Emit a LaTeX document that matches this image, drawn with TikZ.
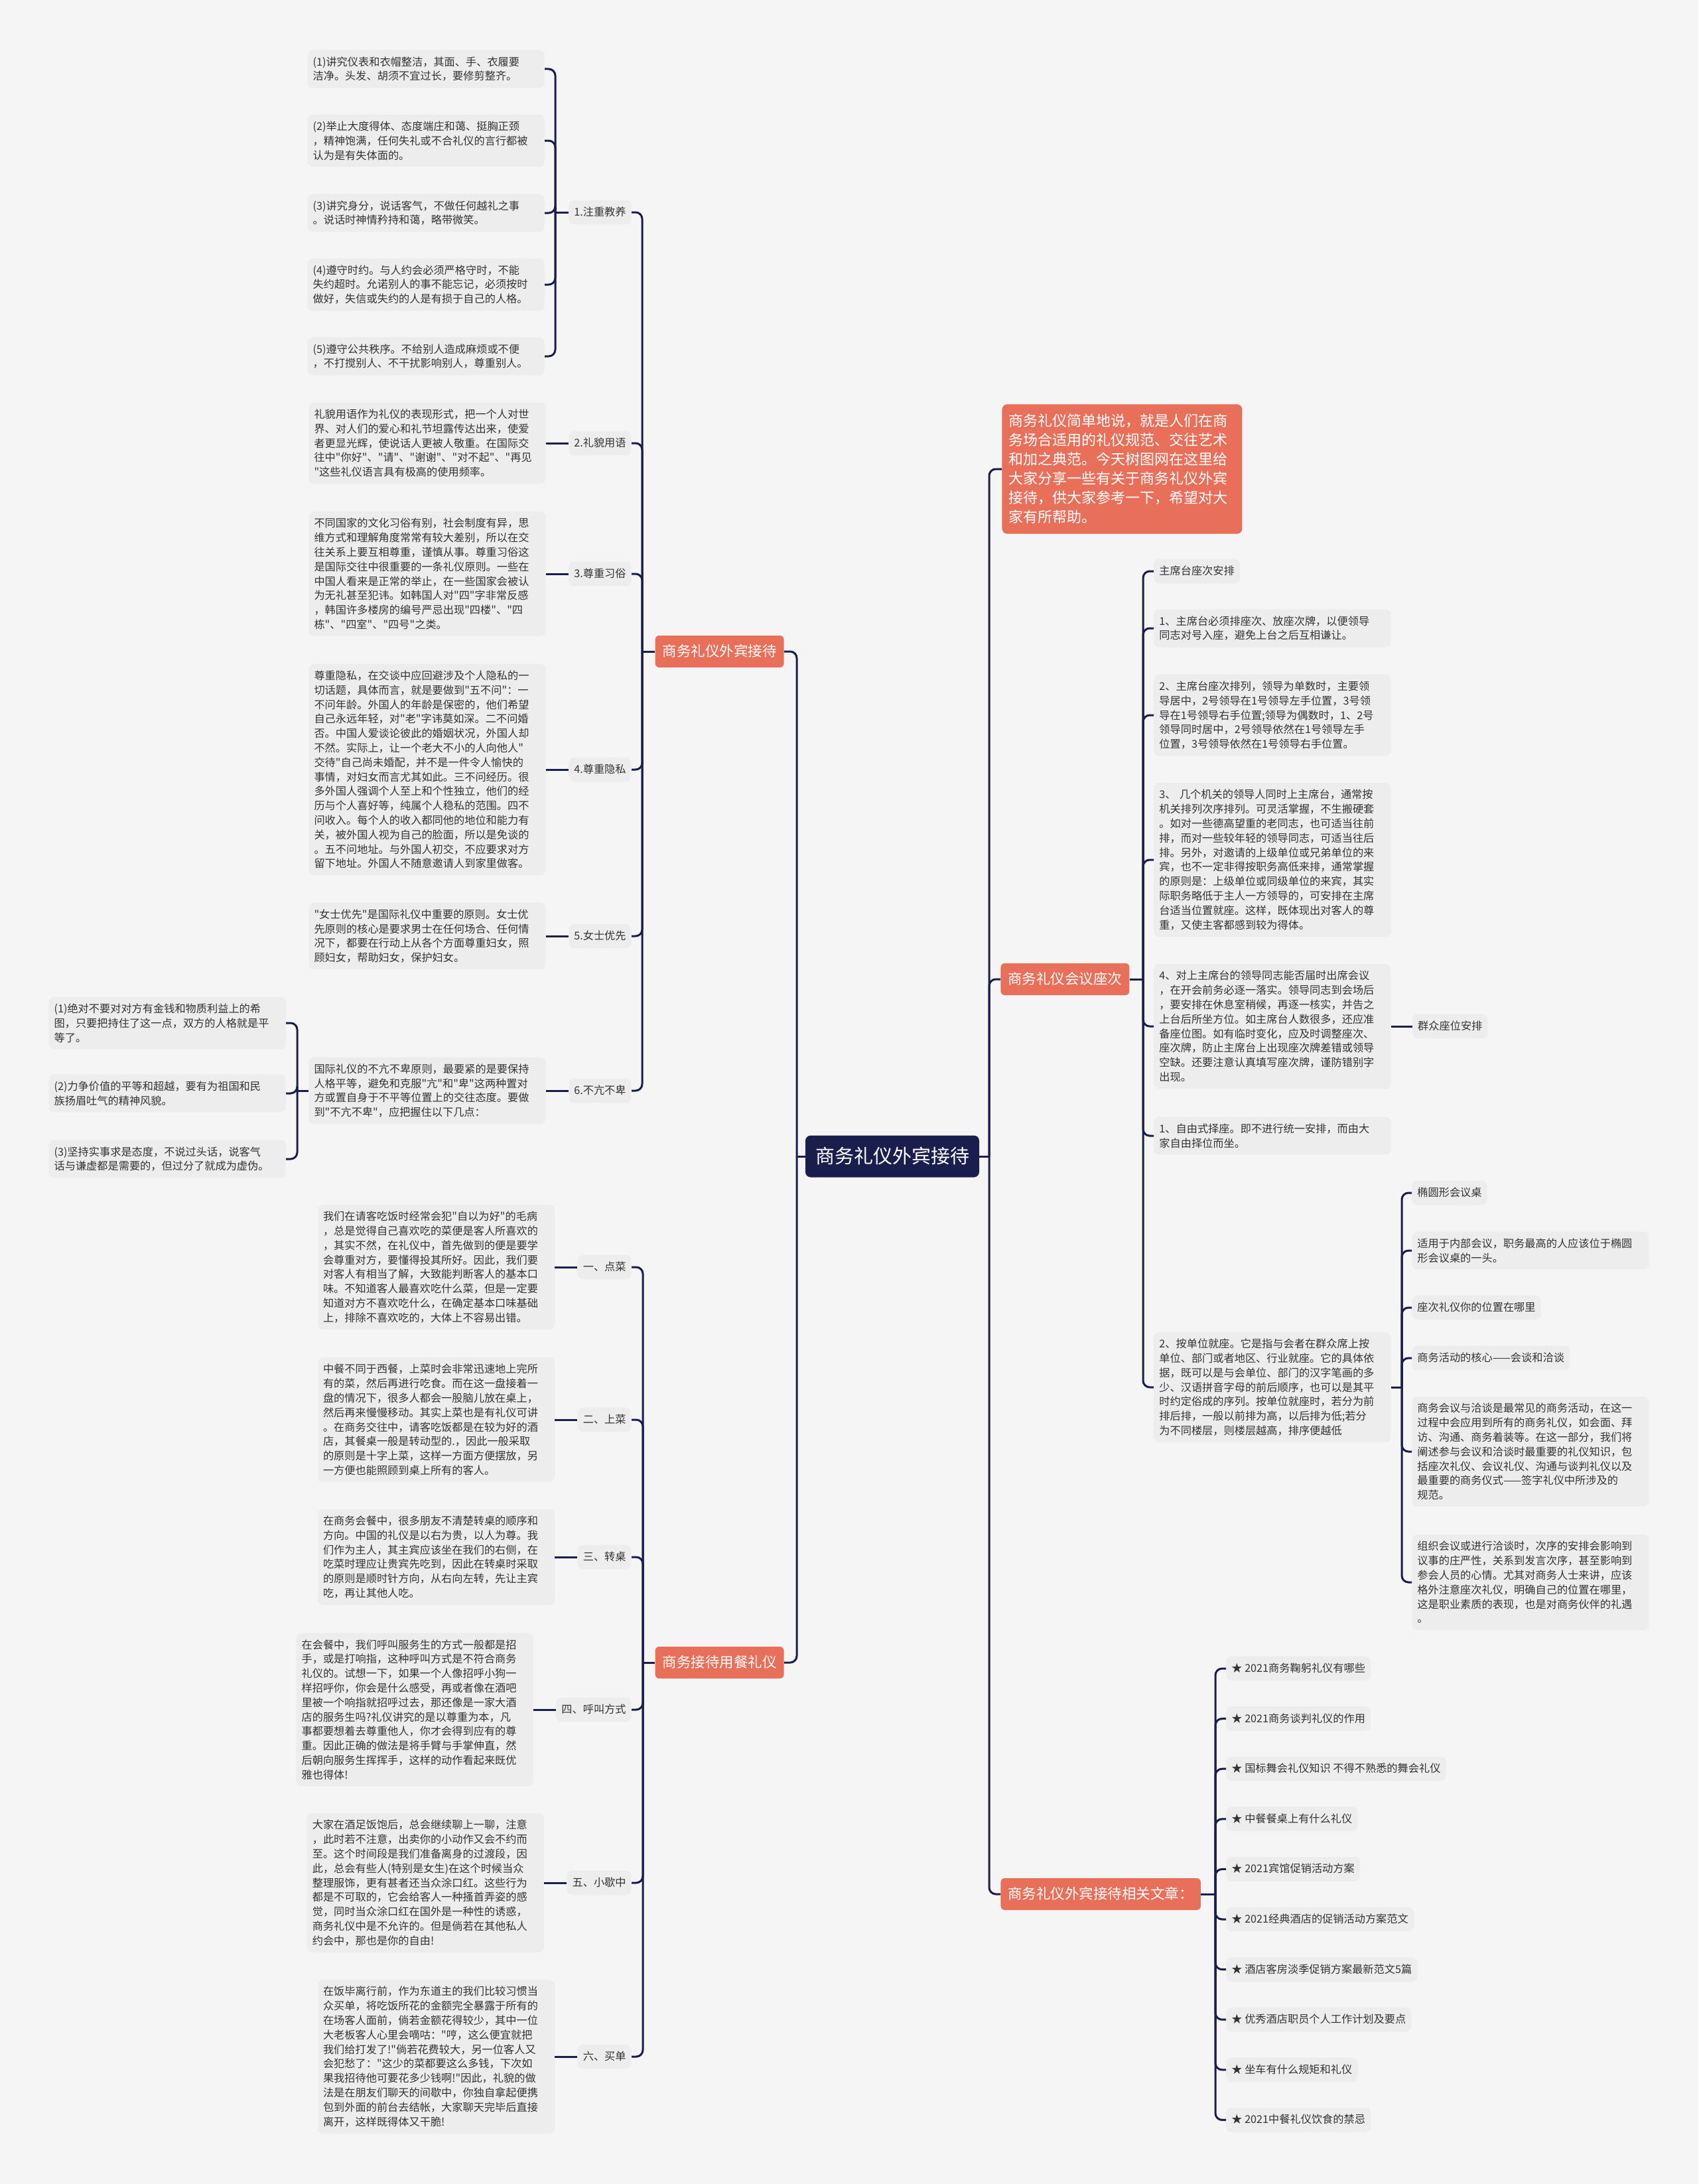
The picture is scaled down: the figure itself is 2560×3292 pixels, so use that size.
\documentclass[tikz,border=0pt]{standalone}
\usepackage{fontspec}
\setmainfont{Noto Sans CJK SC}[Ligatures=TeXOff]
\usepackage{tikz}
\usetikzlibrary{positioning}
\definecolor{mapBg}{RGB}{245,245,245}
\definecolor{mapBox}{RGB}{237,237,237}
\definecolor{mapNavy}{RGB}{26,30,76}
\definecolor{mapSalmon}{RGB}{232,112,90}
\definecolor{mapText}{RGB}{51,51,51}
\newcommand{\bodyfont}{\fontsize{8.1pt}{10.9pt}\selectfont}
\tikzset{
  link/.style={draw=mapNavy,line width=1.5pt,rounded corners=5pt},
  txtbox/.style={fill=mapBox,rounded corners=4pt,text=mapText,font=\bodyfont,
                 align=left,text width=170.5pt,inner xsep=4pt,inner ysep=5pt},
  tag/.style={fill=mapBox,rounded corners=4pt,text=mapText,font=\bodyfont,
              text height=7pt,text depth=1.6pt,inner xsep=4pt,inner ysep=4.9pt},
  branch/.style={fill=mapSalmon,rounded corners=3pt,text=white,
                 font=\fontsize{10.75pt}{13pt}\selectfont,
                 text height=9pt,text depth=1.6pt,inner xsep=5.5pt,inner ysep=6.7pt},
  root/.style={fill=mapNavy,rounded corners=4pt,text=white,
               font=\fontsize{14.5pt}{17pt}\selectfont,
               text height=12.5pt,text depth=2pt,inner xsep=7.5pt,inner ysep=8.5pt},
  intro/.style={fill=mapSalmon,rounded corners=4pt,text=white,align=left,
                font=\fontsize{11pt}{14.5pt}\selectfont,
                text width=171pt,inner xsep=5pt,inner ysep=7.5pt}
}

\begin{document}
\begin{tikzpicture}[x=0.5pt,y=-0.5pt]
\fill[mapBg] (0,0) rectangle (2560,3292);
\useasboundingbox (0,0) rectangle (2560,3292);

% root and main branches
\node[root] (root) at (1345,1743) {商务礼仪外宾接待};
\node[branch,anchor=east] (guest) at (1182,982) {商务礼仪外宾接待};
\node[branch,anchor=east] (dine) at (1182,2506) {商务接待用餐礼仪};
\node[intro,anchor=west] (intro) at (1510,707)
  {商务礼仪简单地说，就是人们在商\\务场合适用的礼仪规范、交往艺术\\和加之典范。今天树图网在这里给\\大家分享一些有关于商务礼仪外宾\\接待，供大家参考一下，希望对大\\家有所帮助。};
\node[branch,anchor=west] (seat) at (1508,1476) {商务礼仪会议座次};
\node[branch,anchor=west] (more) at (1508,2855) {商务礼仪外宾接待相关文章：};

\coordinate (lt) at (1201,1743);
\coordinate (rt) at (1491,1743);
\draw[link] (root.west) -- (lt);
\draw[link] (root.east) -- (rt);
\foreach \b in {guest,dine} \draw[link] (lt) |- (\b.east);
\foreach \b in {intro,seat,more} \draw[link] (rt) |- (\b.west);

% ---- 商务礼仪外宾接待 ----
\node[tag,anchor=east] (g1) at (952,320) {1.注重教养};
\node[tag,anchor=east] (g2) at (952,668) {2.礼貌用语};
\node[tag,anchor=east] (g3) at (952,865) {3.尊重习俗};
\node[tag,anchor=east] (g4) at (952,1160) {4.尊重隐私};
\node[tag,anchor=east] (g5) at (952,1411) {5.女士优先};
\node[tag,anchor=east] (g6) at (952,1644) {6.不亢不卑};
\coordinate (guestv) at (968,982);
\draw[link] (guest.west) -- (guestv);
\foreach \n in {g1,g2,g3,g4,g5,g6} \draw[link] (guestv) |- (\n.east);

\node[txtbox,anchor=east] (g1a) at (821,104)
  {(1)讲究仪表和衣帽整洁，其面、手、衣履要\\洁净。头发、胡须不宜过长，要修剪整齐。};
\node[txtbox,anchor=east] (g1b) at (821,212)
  {(2)举止大度得体、态度端庄和蔼、挺胸正颈\\，精神饱满，任何失礼或不合礼仪的言行都被\\认为是有失体面的。};
\node[txtbox,anchor=east] (g1c) at (821,321)
  {(3)讲究身分，说话客气，不做任何越礼之事\\。说话时神情矜持和蔼，略带微笑。};
\node[txtbox,anchor=east] (g1d) at (821,429)
  {(4)遵守时约。与人约会必须严格守时，不能\\失约超时。允诺别人的事不能忘记，必须按时\\做好，失信或失约的人是有损于自己的人格。};
\node[txtbox,anchor=east] (g1e) at (821,537)
  {(5)遵守公共秩序。不给别人造成麻烦或不便\\，不打搅别人、不干扰影响别人，尊重别人。};
\coordinate (g1v) at (837,320);
\draw[link] (g1.west) -- (g1v);
\foreach \n in {g1a,g1b,g1c,g1d,g1e} \draw[link] (g1v) |- (\n.east);

\node[txtbox,left=17pt of g2] (g2t)
  {礼貌用语作为礼仪的表现形式，把一个人对世\\界、对人们的爱心和礼节坦露传达出来，使爱\\者更显光辉，使说话人更被人敬重。在国际交\\往中"你好"、"请"、"谢谢"、"对不起"、"再见\\"这些礼仪语言具有极高的使用频率。};
\node[txtbox,left=17pt of g3] (g3t)
  {不同国家的文化习俗有别，社会制度有异，思\\维方式和理解角度常常有较大差别，所以在交\\往关系上要互相尊重，谨慎从事。尊重习俗这\\是国际交往中很重要的一条礼仪原则。一些在\\中国人看来是正常的举止，在一些国家会被认\\为无礼甚至犯讳。如韩国人对"四"字非常反感\\，韩国许多楼房的编号严忌出现"四楼"、"四\\栋"、"四室"、"四号"之类。};
\node[txtbox,left=17pt of g4] (g4t)
  {尊重隐私，在交谈中应回避涉及个人隐私的一\\切话题，具体而言，就是要做到"五不问"：一\\不问年龄。外国人的年龄是保密的，他们希望\\自己永远年轻，对"老"字讳莫如深。二不问婚\\否。中国人爱谈论彼此的婚姻状况，外国人却\\不然。实际上，让一个老大不小的人向他人"\\交待"自己尚未婚配，并不是一件令人愉快的\\事情，对妇女而言尤其如此。三不问经历。很\\多外国人强调个人至上和个性独立，他们的经\\历与个人喜好等，纯属个人稳私的范围。四不\\问收入。每个人的收入都同他的地位和能力有\\关，被外国人视为自己的脸面，所以是免谈的\\。五不问地址。与外国人初交，不应要求对方\\留下地址。外国人不随意邀请人到家里做客。};
\node[txtbox,left=17pt of g5] (g5t)
  {"女士优先"是国际礼仪中重要的原则。女士优\\先原则的核心是要求男士在任何场合、任何情\\况下，都要在行动上从各个方面尊重妇女，照\\顾妇女，帮助妇女，保护妇女。};
\node[txtbox,left=17pt of g6] (g6t)
  {国际礼仪的不亢不卑原则，最要紧的是要保持\\人格平等，避免和克服"亢"和"卑"这两种置对\\方或置自身于不平等位置上的交往态度。要做\\到"不亢不卑"，应把握住以下几点：};
\foreach \n in {g2,g3,g4,g5,g6} \draw[link] (\n.west) -- (\n t.east);

\node[txtbox,anchor=east] (g6a) at (431,1542)
  {(1)绝对不要对对方有金钱和物质利益上的希\\图，只要把持住了这一点，双方的人格就是平\\等了。};
\node[txtbox,anchor=east] (g6b) at (431,1648)
  {(2)力争价值的平等和超越，要有为祖国和民\\族扬眉吐气的精神风貌。};
\node[txtbox,anchor=east] (g6c) at (431,1747)
  {(3)坚持实事求是态度，不说过头话，说客气\\话与谦虚都是需要的，但过分了就成为虚伪。};
\coordinate (g6v) at (448,1644);
\draw[link] (g6t.west) -- (g6v);
\foreach \n in {g6a,g6b,g6c} \draw[link] (g6v) |- (\n.east);

% ---- 商务接待用餐礼仪 ----
\node[tag,anchor=east] (d1) at (952,1910) {一、点菜};
\node[tag,anchor=east] (d2) at (952,2140) {二、上菜};
\node[tag,anchor=east] (d3) at (952,2347) {三、转桌};
\node[tag,anchor=east] (d4) at (952,2577) {四、呼叫方式};
\node[tag,anchor=east] (d5) at (952,2838) {五、小歇中};
\node[tag,anchor=east] (d6) at (952,3100) {六、买单};
\coordinate (dinev) at (969,2506);
\draw[link] (dine.west) -- (dinev);
\foreach \n in {d1,d2,d3,d4,d5,d6} \draw[link] (dinev) |- (\n.east);

\node[txtbox,left=17pt of d1] (d1t)
  {我们在请客吃饭时经常会犯"自以为好"的毛病\\，总是觉得自己喜欢吃的菜便是客人所喜欢的\\，其实不然，在礼仪中，首先做到的便是要学\\会尊重对方，要懂得投其所好。因此，我们要\\对客人有相当了解，大致能判断客人的基本口\\味。不知道客人最喜欢吃什么菜，但是一定要\\知道对方不喜欢吃什么，在确定基本口味基础\\上，排除不喜欢吃的，大体上不容易出错。};
\node[txtbox,left=17pt of d2] (d2t)
  {中餐不同于西餐，上菜时会非常迅速地上完所\\有的菜，然后再进行吃食。而在这一盘接着一\\盘的情况下，很多人都会一股脑儿放在桌上，\\然后再来慢慢移动。其实上菜也是有礼仪可讲\\。在商务交往中，请客吃饭都是在较为好的酒\\店，其餐桌一般是转动型的.，因此一般采取\\的原则是十字上菜，这样一方面方便摆放，另\\一方便也能照顾到桌上所有的客人。};
\node[txtbox,left=17pt of d3] (d3t)
  {在商务会餐中，很多朋友不清楚转桌的顺序和\\方向。中国的礼仪是以右为贵，以人为尊。我\\们作为主人，其主宾应该坐在我们的右侧，在\\吃菜时理应让贵宾先吃到，因此在转桌时采取\\的原则是顺时针方向，从右向左转，先让主宾\\吃，再让其他人吃。};
\node[txtbox,left=17pt of d4] (d4t)
  {在会餐中，我们呼叫服务生的方式一般都是招\\手，或是打响指，这种呼叫方式是不符合商务\\礼仪的。试想一下，如果一个人像招呼小狗一\\样招呼你，你会是什么感受，再或者像在酒吧\\里被一个响指就招呼过去，那还像是一家大酒\\店的服务生吗?礼仪讲究的是以尊重为本，凡\\事都要想着去尊重他人，你才会得到应有的尊\\重。因此正确的做法是将手臂与手掌伸直，然\\后朝向服务生挥挥手，这样的动作看起来既优\\雅也得体!};
\node[txtbox,left=17pt of d5] (d5t)
  {大家在酒足饭饱后，总会继续聊上一聊，注意\\，此时若不注意，出卖你的小动作又会不约而\\至。这个时间段是我们准备离身的过渡段，因\\此，总会有些人(特别是女生)在这个时候当众\\整理服饰，更有甚者还当众涂口红。这些行为\\都是不可取的，它会给客人一种搔首弄姿的感\\觉，同时当众涂口红在国外是一种性的诱惑，\\商务礼仪中是不允许的。但是倘若在其他私人\\约会中，那也是你的自由!};
\node[txtbox,left=17pt of d6] (d6t)
  {在饭毕离行前，作为东道主的我们比较习惯当\\众买单，将吃饭所花的金额完全暴露于所有的\\在场客人面前，倘若金额花得较少，其中一位\\大老板客人心里会嘀咕："哼，这么便宜就把\\我们给打发了!"倘若花费较大，另一位客人又\\会犯愁了："这少的菜都要这么多钱，下次如\\果我招待他可要花多少钱啊!"因此，礼貌的做\\法是在朋友们聊天的间歇中，你独自拿起便携\\包到外面的前台去结帐，大家聊天完毕后直接\\离开，这样既得体又干脆!};
\foreach \n in {d1,d2,d3,d4,d5,d6} \draw[link] (\n.west) -- (\n t.east);

% ---- 商务礼仪会议座次 ----
\node[tag,anchor=west] (s0) at (1739,861) {主席台座次安排};
\node[txtbox,anchor=west] (s1) at (1739,947)
  {1、主席台必须排座次、放座次牌，以便领导\\同志对号入座，避免上台之后互相谦让。};
\node[txtbox,anchor=west] (s2) at (1739,1078)
  {2、主席台座次排列，领导为单数时，主要领\\导居中，2号领导在1号领导左手位置，3号领\\导在1号领导右手位置;领导为偶数时，1、2号\\领导同时居中，2号领导依然在1号领导左手\\位置，3号领导依然在1号领导右手位置。};
\node[txtbox,anchor=west] (s3) at (1739,1296)
  {3、 几个机关的领导人同时上主席台，通常按\\机关排列次序排列。可灵活掌握，不生搬硬套\\。如对一些德高望重的老同志，也可适当往前\\排，而对一些较年轻的领导同志，可适当往后\\排。另外，对邀请的上级单位或兄弟单位的来\\宾，也不一定非得按职务高低来排，通常掌握\\的原则是：上级单位或同级单位的来宾，其实\\际职务略低于主人一方领导的，可安排在主席\\台适当位置就座。这样，既体现出对客人的尊\\重，又使主客都感到较为得体。};
\node[txtbox,anchor=west] (s4) at (1739,1547)
  {4、对上主席台的领导同志能否届时出席会议\\，在开会前务必逐一落实。领导同志到会场后\\，要安排在休息室稍候，再逐一核实，并告之\\上台后所坐方位。如主席台人数很多，还应准\\备座位图。如有临时变化，应及时调整座次、\\座次牌，防止主席台上出现座次牌差错或领导\\空缺。还要注意认真填写座次牌，谨防错别字\\出现。};
\node[txtbox,anchor=west] (s5) at (1739,1712)
  {1、自由式择座。即不进行统一安排，而由大\\家自由择位而坐。};
\node[txtbox,anchor=west] (s6) at (1739,2091)
  {2、按单位就座。它是指与会者在群众席上按\\单位、部门或者地区、行业就座。它的具体依\\据，既可以是与会单位、部门的汉字笔画的多\\少、汉语拼音字母的前后顺序，也可以是其平\\时约定俗成的序列。按单位就座时，若分为前\\排后排，一般以前排为高，以后排为低;若分\\为不同楼层，则楼层越高，排序便越低};
\coordinate (seatv) at (1723,1476);
\draw[link] (seat.east) -- (seatv);
\foreach \n in {s0,s1,s2,s3,s4,s5,s6} \draw[link] (seatv) |- (\n.west);

\node[tag,right=16pt of s4] (crowd) {群众座位安排};
\draw[link] (s4.east) -- (crowd.west);

\node[tag,anchor=west] (u1) at (2128,1798) {椭圆形会议桌};
\node[txtbox,anchor=west] (u2) at (2128,1885)
  {适用于内部会议，职务最高的人应该位于椭圆\\形会议桌的一头。};
\node[tag,anchor=west] (u3) at (2128,1971) {座次礼仪你的位置在哪里};
\node[tag,anchor=west] (u4) at (2128,2047) {商务活动的核心——会谈和洽谈};
\node[txtbox,anchor=west] (u5) at (2128,2188)
  {商务会议与洽谈是最常见的商务活动，在这一\\过程中会应用到所有的商务礼仪，如会面、拜\\访、沟通、商务着装等。在这一部分，我们将\\阐述参与会议和洽谈时最重要的礼仪知识，包\\括座次礼仪、会议礼仪、沟通与谈判礼仪以及\\最重要的商务仪式——签字礼仪中所涉及的\\规范。};
\node[txtbox,anchor=west] (u6) at (2128,2385)
  {组织会议或进行洽谈时，次序的安排会影响到\\议事的庄严性，关系到发言次序，甚至影响到\\参会人员的心情。尤其对商务人士来讲，应该\\格外注意座次礼仪，明确自己的位置在哪里，\\这是职业素质的表现，也是对商务伙伴的礼遇\\。};
\coordinate (s6v) at (2113,2091);
\draw[link] (s6.east) -- (s6v);
\foreach \n in {u1,u2,u3,u4,u5,u6} \draw[link] (s6v) |- (\n.west);

% ---- 相关文章 ----
\coordinate (morev) at (1832,2855);
\draw[link] (more.east) -- (morev);
\foreach \t [count=\i from 0] in {%
  {★ 2021商务鞠躬礼仪有哪些},
  {★ 2021商务谈判礼仪的作用},
  {★ 国标舞会礼仪知识 不得不熟悉的舞会礼仪},
  {★ 中餐餐桌上有什么礼仪},
  {★ 2021宾馆促销活动方案},
  {★ 2021经典酒店的促销活动方案范文},
  {★ 酒店客房淡季促销方案最新范文5篇},
  {★ 优秀酒店职员个人工作计划及要点},
  {★ 坐车有什么规矩和礼仪},
  {★ 2021中餐礼仪饮食的禁忌}}
{
  \node[tag,anchor=west] (art\i) at (1848,{2515+75.6*\i}) {\t};
  \draw[link] (morev) |- (art\i.west);
}
\end{tikzpicture}
\end{document}
